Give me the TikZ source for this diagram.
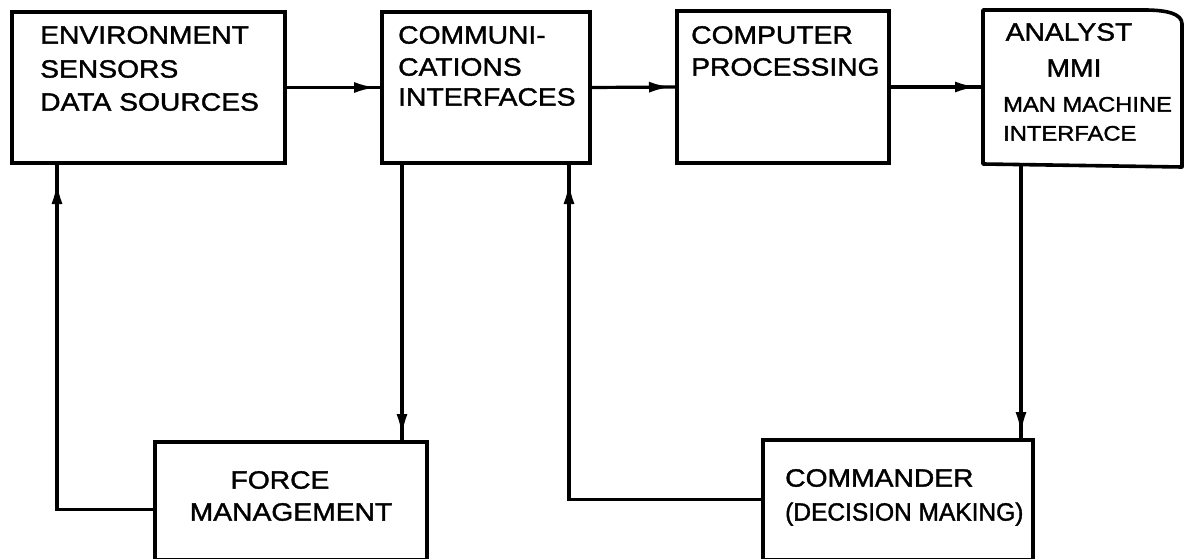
\documentclass[tikz,border=0pt]{standalone}
\usepackage{fontspec}
\newfontfamily\handfont[FakeStretch=1.13,FakeBold=1.5]{Liberation Sans}
\newfontfamily\handnarrow[FakeStretch=0.98,FakeBold=1.5]{Liberation Sans}
\usetikzlibrary{arrows.meta,decorations.markings,calc}
\begin{document}
\begin{tikzpicture}[x=1pt,y=-1pt,
  box/.style={draw, line width=3.6pt, inner sep=0pt, outer sep=0pt, anchor=north west},
  boxline/.style={line width=3.6pt, line join=round},
  txt/.style={inner sep=0pt, font=\handfont\fontsize{25}{30}\selectfont, text height=0.72em, text depth=0pt},
  narrowtxt/.style={txt, font=\handnarrow\fontsize{25}{30}\selectfont},
  smalltxt/.style={txt, font=\handfont\fontsize{21}{26}\selectfont},
  tipshape/.tip={Latex[length=22pt,width=11pt]},
  conn/.style={line width=3.2pt},
  arrnear/.style={conn, postaction={decorate}, decoration={markings, mark=at position -6pt with {\arrow{tipshape}}}},
  arrfar/.style={conn, postaction={decorate}, decoration={markings, mark=at position -19pt with {\arrow{tipshape}}}}
]
\useasboundingbox (0,0) rectangle (1185,559);

% top row
\node[box, minimum width=273pt, minimum height=151pt] (env) at (12,12) {};
\node[box, minimum width=208pt, minimum height=151pt] (comm) at (382,12) {};
\node[box, minimum width=212pt, minimum height=152pt] (comp) at (677,11) {};
\node[box, draw=none, minimum width=199pt, minimum height=154pt] (anal) at (983,10) {};
\draw[boxline] (anal.south west) -- (anal.north west) -- ($(anal.north east)+(-38,0)$)
  .. controls ($(anal.north east)+(-14,0)$) and ($(anal.north east)+(0,4)$) .. ($(anal.north east)+(0,14)$)
  -- ($(anal.south east)+(0,3)$) -- cycle;

% bottom row
\node[box, minimum width=272pt, minimum height=117.5pt] (fm) at (155,442) {};
\node[box, minimum width=270pt, minimum height=119.5pt] (cmd) at (763,440) {};

% texts
\node[txt, anchor=west] (e1) at (40,40) {ENVIRONMENT};
\node[txt, anchor=west] (e2) at (40,74) {SENSORS};
\node[txt, anchor=west] (e3) at (40,107) {DATA SOURCES};

\node[txt, anchor=west] (c1) at (398,40) {COMMUNI-};
\node[txt, anchor=west] (c2) at (398,72) {CATIONS};
\node[txt, anchor=west] (c3) at (398,102) {INTERFACES};

\node[txt, anchor=west] (p1) at (691,40) {COMPUTER};
\node[txt, anchor=west] (p2) at (691,72) {PROCESSING};

\node[txt] (a1) at (1069,37) {ANALYST};
\node[txt] (a2) at (1074,73) {MMI};
\node[smalltxt, anchor=west] (a3) at (1003,108) {MAN MACHINE};
\node[smalltxt, anchor=west] (a4) at (1003,137) {INTERFACE};

\node[txt] (f1) at (280,485) {FORCE};
\node[txt] (f2) at (291,517) {MANAGEMENT};

\node[txt, anchor=west] (m1) at (785,483) {COMMANDER};
\node[narrowtxt, anchor=west] (m2) at (785,517) {(DECISION MAKING)};

% horizontal connectors
\draw[arrnear] (env.east) -- (comm.west);
\draw[arrnear] (comm.east) -- (comp.west);
\draw[arrnear] (comp.east) -- (comp.east -| anal.west);

% feedback / vertical connectors
\draw[arrfar] ($(fm.west)+(0,9)$) -| ($(env.south west)+(45,0)$);
\draw[arrnear] ($(comm.south west)+(20,0)$) coordinate (cd) -- (cd |- fm.north);
\draw[arrfar] (cmd.west) -| ($(comm.south west)+(187,0)$);
\draw[arrnear] ($(anal.south west)+(38,0)$) coordinate (ad) -- (ad |- cmd.north);
\end{tikzpicture}
\end{document}
